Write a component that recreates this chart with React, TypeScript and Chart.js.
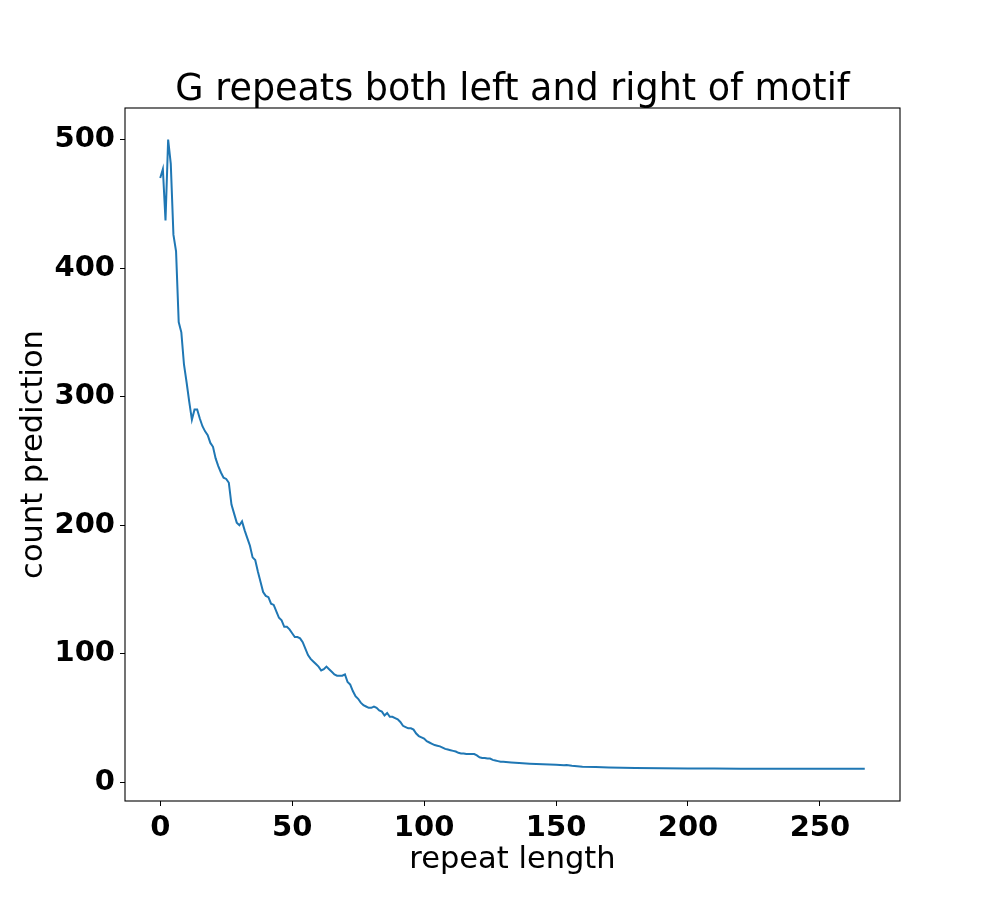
import React, { useEffect, useRef } from "react";
import { Chart, registerables } from "chart.js";

Chart.register(...registerables);

const titleText = "G repeats both left and right of motif";
const xLabel = "repeat length";
const yLabel = "count prediction";

const xTickValues = [0, 50, 100, 150, 200, 250];
const yTickValues = [0, 100, 200, 300, 400, 500];

// repeat length values (every integer up to 130, then the smooth tail)
const repeatLength = [
  0, 1, 2, 3, 4, 5, 6, 7, 8, 9,
  10, 11, 12, 13, 14, 15, 16, 17, 18, 19,
  20, 21, 22, 23, 24, 25, 26, 27, 28, 29,
  30, 31, 32, 33, 34, 35, 36, 37, 38, 39,
  40, 41, 42, 43, 44, 45, 46, 47, 48, 49,
  50, 51, 52, 53, 54, 55, 56, 57, 58, 59,
  60, 61, 62, 63, 64, 65, 66, 67, 68, 69,
  70, 71, 72, 73, 74, 75, 76, 77, 78, 79,
  80, 81, 82, 83, 84, 85, 86, 87, 88, 89,
  90, 91, 92, 93, 94, 95, 96, 97, 98, 99,
  100, 101, 102, 103, 104, 105, 106, 107, 108, 109,
  110, 111, 112, 113, 114, 115, 116, 117, 118, 119,
  120, 121, 122, 123, 124, 125, 126, 127, 128, 129,
  130, 133, 136, 140, 145, 150, 153, 154, 156, 158,
  160, 165, 170, 175, 180, 190, 200, 210, 220, 240, 267,
];

const countPrediction = [
  470, 477, 437, 500, 481, 426, 413, 358, 350, 325,
  311, 296, 282, 290, 290, 283, 277, 273, 270, 264,
  261, 252, 246, 241, 237, 236, 233, 216, 209, 202,
  200, 203, 196, 190, 184, 175, 173, 164, 156, 148,
  145, 144, 139, 138, 133, 128, 126, 121, 121, 119,
  116, 113, 113, 112, 109, 104, 99, 96, 94, 92,
  90, 87, 88, 90, 88, 86, 84, 83, 83, 83,
  84, 78, 76, 71, 67, 65, 62, 60, 59, 58,
  58, 59, 58, 56, 55, 52, 54, 51, 51, 50,
  49, 47, 44, 43, 42, 42, 41, 38, 36, 35,
  34, 32, 31, 30, 29, 28.5, 28, 27, 26, 25.5,
  25, 24.5, 24, 23, 22.5, 22.5, 22, 22, 22, 22,
  21, 19.5, 19, 19, 18.5, 18.5, 17.5, 17, 16.5, 16,
  16, 15.5, 15, 14.5, 14, 13.6, 13.3, 13.5, 13, 12.6,
  12.2, 11.9, 11.6, 11.4, 11.2, 11, 10.8, 10.7, 10.6, 10.6, 10.5,
];

const FONT = '"DejaVu Sans", "Liberation Sans", sans-serif';

const textPlugin = {
  id: "mplText",
  afterDraw(chart: any) {
    const { ctx, chartArea } = chart;
    const cx = (chartArea.left + chartArea.right) / 2;
    const cy = (chartArea.top + chartArea.bottom) / 2;
    ctx.save();
    // frame
    ctx.strokeStyle = "#000";
    ctx.lineWidth = 1.1;
    ctx.strokeRect(
      chartArea.left,
      chartArea.top,
      chartArea.right - chartArea.left,
      chartArea.bottom - chartArea.top
    );
    ctx.fillStyle = "#000";
    ctx.textAlign = "center";
    ctx.textBaseline = "alphabetic";
    ctx.font = `36.5px ${FONT}`;
    ctx.fillText(titleText, cx, chartArea.top - 8);
    ctx.font = `30.5px ${FONT}`;
    ctx.fillText(xLabel, cx, 868);
    ctx.translate(42, cy);
    ctx.rotate(-Math.PI / 2);
    ctx.fillText(yLabel, 0, 0);
    ctx.restore();
  },
};

export default function App() {
  const ref = useRef<HTMLCanvasElement | null>(null);

  useEffect(() => {
    document.body.style.margin = "0";
    const canvas = ref.current;
    if (!canvas) return;
    const points = repeatLength.map((x, i) => ({ x, y: countPrediction[i] }));
    const tickFont = { family: FONT, size: 29, weight: "bold" as const };
    const chart = new Chart(canvas, {
      type: "line",
      data: {
        datasets: [
          {
            data: points,
            borderColor: "#1f77b4",
            borderWidth: 2,
            pointRadius: 0,
            tension: 0,
            fill: false,
          },
        ],
      },
      options: {
        animation: false,
        responsive: false,
        devicePixelRatio: 1,
        layout: { padding: { left: 0, right: 100, top: 108, bottom: 0 } },
        plugins: {
          legend: { display: false },
          title: { display: false },
          tooltip: { enabled: false },
        },
        scales: {
          x: {
            type: "linear",
            min: -13.35,
            max: 280.35,
            border: { display: false },
            grid: {
              drawOnChartArea: false,
              drawTicks: true,
              tickLength: 5,
              color: "#000",
              lineWidth: 1,
            },
            ticks: {
              padding: 5,
              color: "#000",
              font: tickFont,
              maxRotation: 0,
            },
            afterBuildTicks: (scale: any) => {
              scale.ticks = xTickValues.map((v) => ({ value: v }));
            },
            afterFit: (scale: any) => {
              scale.height = 99;
            },
          },
          y: {
            type: "linear",
            min: -14.5,
            max: 524.5,
            border: { display: false },
            grid: {
              drawOnChartArea: false,
              drawTicks: true,
              tickLength: 5,
              color: "#000",
              lineWidth: 1,
            },
            ticks: {
              padding: 5,
              color: "#000",
              font: tickFont,
            },
            afterBuildTicks: (scale: any) => {
              scale.ticks = yTickValues.map((v) => ({ value: v }));
            },
            afterFit: (scale: any) => {
              scale.width = 125;
            },
          },
        },
      },
      plugins: [textPlugin],
    });
    return () => chart.destroy();
  }, []);

  return (
    <div style={{ position: "absolute", left: 0, top: 0, width: 1000, height: 900, background: "#fff" }}>
      <canvas ref={ref} width={1000} height={900} style={{ display: "block" }} />
    </div>
  );
}
